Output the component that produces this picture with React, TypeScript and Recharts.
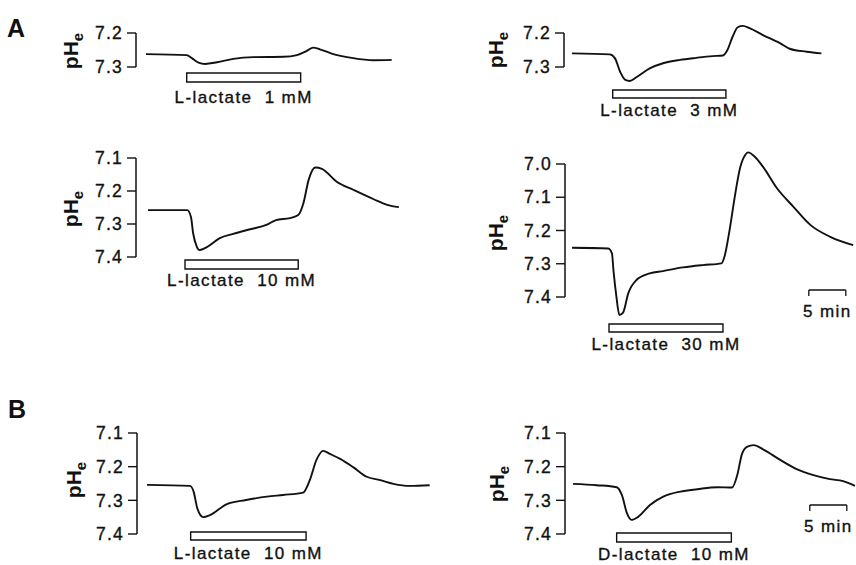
import React from 'react';
import { LineChart, Line, XAxis, YAxis, ReferenceArea, ReferenceLine, Label } from 'recharts';

// ---------- data (time in min from trace start, pHe) ----------
const a1Time = [0, 5.5, 6.2, 7.1, 8.0, 9.6, 11.8, 14.5, 18.6, 20.4, 21.7, 22.6, 23.5, 25.3, 28.0, 30.7, 33.2];
const a1PH = [7.262, 7.265, 7.274, 7.287, 7.291, 7.286, 7.276, 7.271, 7.270, 7.265, 7.253, 7.243, 7.248, 7.262, 7.274, 7.280, 7.279];

const a2Time = [0, 5.1, 5.8, 6.5, 7.2, 7.8, 8.7, 10.5, 12.3, 14.6, 16.8, 19.0, 20.4, 21.0, 21.7, 22.4, 23.1, 24.0, 25.8, 28.1, 29.5, 31.7, 33.7];
const a2PH = [7.26, 7.263, 7.274, 7.314, 7.338, 7.341, 7.330, 7.304, 7.289, 7.279, 7.273, 7.268, 7.266, 7.25, 7.211, 7.183, 7.179, 7.186, 7.206, 7.23, 7.247, 7.255, 7.26];

const a3Time = [0, 5.3, 5.8, 6.1, 6.6, 7.0, 7.9, 9.7, 11.5, 13.8, 16.0, 17.3, 19.2, 20.3, 21.0, 21.7, 22.6, 23.5, 25.5, 27.8, 30.5, 32.3, 33.9];
const a3PH = [7.258, 7.258, 7.278, 7.328, 7.369, 7.379, 7.371, 7.343, 7.330, 7.316, 7.303, 7.288, 7.282, 7.273, 7.237, 7.167, 7.129, 7.133, 7.172, 7.197, 7.225, 7.242, 7.249];

const a4Time = [0, 4.9, 5.4, 5.6, 6.0, 6.4, 6.9, 7.6, 8.7, 10.5, 12.3, 15.0, 17.7, 20.2, 20.6, 21.3, 22.0, 22.7, 23.4, 23.8, 24.7, 25.8, 27.7, 29.9, 32.2, 34.9, 38.0];
const a4PH = [7.252, 7.254, 7.269, 7.319, 7.399, 7.454, 7.447, 7.389, 7.349, 7.329, 7.322, 7.311, 7.304, 7.299, 7.279, 7.198, 7.098, 7.013, 6.973, 6.965, 6.978, 7.008, 7.073, 7.128, 7.183, 7.219, 7.244];

const b1Time = [0, 5.8, 6.3, 6.8, 7.6, 8.5, 10.8, 13.4, 16.2, 18.4, 21.1, 22.0, 22.9, 23.8, 24.7, 26.1, 27.9, 29.7, 31.5, 33.3, 35.5, 38.2];
const b1PH = [7.254, 7.257, 7.274, 7.324, 7.350, 7.344, 7.311, 7.299, 7.289, 7.284, 7.277, 7.240, 7.180, 7.153, 7.162, 7.177, 7.202, 7.230, 7.240, 7.251, 7.257, 7.255];

const b2Time = [0, 3.2, 5.9, 6.6, 7.3, 7.9, 8.8, 10.4, 12.2, 14.5, 16.8, 19.5, 21.5, 22.2, 22.8, 23.5, 24.4, 25.8, 28.0, 30.3, 32.5, 34.7, 36.5, 38.1];
const b2PH = [7.251, 7.255, 7.261, 7.284, 7.339, 7.358, 7.349, 7.314, 7.289, 7.274, 7.267, 7.261, 7.262, 7.225, 7.165, 7.141, 7.136, 7.150, 7.180, 7.208, 7.225, 7.237, 7.243, 7.257];

// application periods (min)
const a1Stim = [5.5, 20.9];
const a2Stim = [5.5, 20.8];
const a3Stim = [5.0, 20.3];
const a4Stim = [5.0, 20.4];
const b1Stim = [5.9, 21.5];
const b2Stim = [5.9, 21.4];

const a1Label = 'L-lactate\u00a0\u00a01 mM';
const a2Label = 'L-lactate\u00a0\u00a03 mM';
const a3Label = 'L-lactate\u00a0\u00a010 mM';
const a4Label = 'L-lactate\u00a0\u00a030 mM';
const b1Label = 'L-lactate\u00a0\u00a010 mM';
const b2Label = 'D-lactate\u00a0\u00a010 mM';

const ticksSmall = [7.2, 7.3];
const ticksMid = [7.1, 7.2, 7.3, 7.4];
const ticksBig = [7.0, 7.1, 7.2, 7.3, 7.4];

const scaleBarStart = 32;
const scaleBarLength = 5;
const scaleBarText = '5 min';

// ---------- layout ----------
const PX_PER_MIN = 7.4;
const FONT = '"Liberation Sans", Arial, Helvetica, sans-serif';
const INK = '#111';

type Layout = {
  left: number; top: number; right: number; bottom: number;
  axisX: number; t0Px: number;
  y1Px: number; v1: number; y2Px: number; v2: number;
  phLeft: number; phCY: number;
  barTop: number; barBot: number; labelOffset: number;
  scaleY?: number; scaleTickY?: number;
};

const L_A1: Layout = { left: 40, top: 15, right: 420, bottom: 110, axisX: 136, t0Px: 146, y1Px: 33, v1: 7.2, y2Px: 67, v2: 7.3, phLeft: 63, phCY: 51, barTop: 73, barBot: 82, labelOffset: 9 };
const L_A2: Layout = { left: 470, top: 15, right: 856, bottom: 125, axisX: 564, t0Px: 572, y1Px: 33, v1: 7.2, y2Px: 67, v2: 7.3, phLeft: 488, phCY: 50, barTop: 90, barBot: 98, labelOffset: 6 };
const L_A3: Layout = { left: 40, top: 140, right: 420, bottom: 300, axisX: 136, t0Px: 148, y1Px: 158, v1: 7.1, y2Px: 257, v2: 7.4, phLeft: 63, phCY: 209, barTop: 260, barBot: 269, labelOffset: 5 };
const L_A4: Layout = { left: 470, top: 140, right: 856, bottom: 360, axisX: 565, t0Px: 572, y1Px: 164, v1: 7.0, y2Px: 297, v2: 7.4, phLeft: 488, phCY: 233, barTop: 324, barBot: 332, labelOffset: 6, scaleY: 290, scaleTickY: 296 };
const L_B1: Layout = { left: 40, top: 415, right: 440, bottom: 565, axisX: 137, t0Px: 147, y1Px: 433, v1: 7.1, y2Px: 534, v2: 7.4, phLeft: 66, phCY: 480, barTop: 532, barBot: 540, labelOffset: 7 };
const L_B2: Layout = { left: 470, top: 415, right: 856, bottom: 565, axisX: 565, t0Px: 573, y1Px: 433, v1: 7.1, y2Px: 534, v2: 7.4, phLeft: 489, phCY: 484, barTop: 533, barBot: 542, labelOffset: 6, scaleY: 505, scaleTickY: 511 };

type PanelProps = {
  layout: Layout; time: number[]; ph: number[]; ticks: number[];
  stim: number[]; stimLabel: string; scale?: boolean;
};

const textInk = { fill: INK, stroke: INK, strokeWidth: 0.35, fontFamily: FONT };

function Panel({ layout: L, time, ph, ticks, stim, stimLabel, scale }: PanelProps) {
  const ppu = (L.y2Px - L.y1Px) / (L.v2 - L.v1);
  const pxToV = (px: number) => L.v1 + (px - L.y1Px) / ppu;
  const vTop = pxToV(L.top);
  const vBot = pxToV(L.bottom);
  const xMin = (L.axisX - L.t0Px) / PX_PER_MIN;
  const xMax = (L.right - L.t0Px) / PX_PER_MIN;
  const rows = time.map((t, i) => ({ t, ph: ph[i] }));
  const width = L.right - L.left;
  const height = L.bottom - L.top;
  const phX = L.phLeft - L.left + 15;
  const phY = L.phCY - L.top;

  const phContent = () => (
    <text
      x={phX}
      y={phY}
      transform={`rotate(-90 ${phX} ${phY})`}
      textAnchor="middle"
      fontFamily={FONT}
      fontSize={21}
      fontWeight="bold"
      fill={INK}
    >
      pH<tspan dy={5} fontSize={15}>e</tspan>
    </text>
  );

  return (
    <div style={{ position: 'absolute', left: L.left, top: L.top, width, height }}>
      <LineChart width={width} height={height} data={rows} margin={{ top: 0, right: 0, bottom: 0, left: 0 }}>
        <XAxis dataKey="t" type="number" domain={[xMin, xMax]} allowDataOverflow hide />
        <YAxis
          type="number"
          domain={[vTop, vBot]}
          allowDataOverflow
          reversed
          ticks={ticks}
          interval={0}
          width={L.axisX - L.left}
          tickSize={9}
          tickMargin={4}
          axisLine={false}
          tickLine={{ stroke: INK, strokeWidth: 1.4 }}
          tick={{ ...textInk, fontSize: 17.5, letterSpacing: 1.2 }}
          tickFormatter={(v: number) => v.toFixed(1)}
        >
          <Label content={phContent} />
        </YAxis>
        <ReferenceLine
          segment={[{ x: xMin, y: ticks[0] }, { x: xMin, y: ticks[ticks.length - 1] }]}
          stroke={INK}
          strokeWidth={1.5}
          ifOverflow="visible"
        />
        <ReferenceArea
          x1={stim[0]}
          x2={stim[1]}
          y1={pxToV(L.barTop)}
          y2={pxToV(L.barBot)}
          fill="#fff"
          fillOpacity={1}
          stroke={INK}
          strokeWidth={1.4}
          ifOverflow="visible"
          label={{
            value: stimLabel,
            position: 'bottom',
            offset: L.labelOffset,
            ...textInk,
            fontSize: 17,
            letterSpacing: 1.4,
          }}
        />
        {scale && L.scaleY !== undefined && L.scaleTickY !== undefined && (
          <ReferenceLine
            segment={[{ x: scaleBarStart, y: pxToV(L.scaleY) }, { x: scaleBarStart + scaleBarLength, y: pxToV(L.scaleY) }]}
            stroke={INK}
            strokeWidth={1.3}
            ifOverflow="visible"
            label={{ value: scaleBarText, position: 'bottom', offset: 15, ...textInk, fontSize: 17, letterSpacing: 1.4 }}
          />
        )}
        {scale && L.scaleY !== undefined && L.scaleTickY !== undefined && (
          <ReferenceLine
            segment={[{ x: scaleBarStart, y: pxToV(L.scaleY) }, { x: scaleBarStart, y: pxToV(L.scaleTickY) }]}
            stroke={INK}
            strokeWidth={1.3}
            ifOverflow="visible"
          />
        )}
        {scale && L.scaleY !== undefined && L.scaleTickY !== undefined && (
          <ReferenceLine
            segment={[{ x: scaleBarStart + scaleBarLength, y: pxToV(L.scaleY) }, { x: scaleBarStart + scaleBarLength, y: pxToV(L.scaleTickY) }]}
            stroke={INK}
            strokeWidth={1.3}
            ifOverflow="visible"
          />
        )}
        <Line
          dataKey="ph"
          type="monotone"
          stroke={INK}
          strokeWidth={1.9}
          dot={false}
          activeDot={false}
          isAnimationActive={false}
        />
      </LineChart>
    </div>
  );
}

const letterStyle: React.CSSProperties = {
  position: 'absolute',
  fontFamily: FONT,
  fontWeight: 'bold',
  fontSize: 25,
  color: INK,
  lineHeight: '25px',
};

export default function App() {
  return (
    <div style={{ position: 'absolute', left: 0, top: 0, width: 856, height: 565, background: '#fff', overflow: 'hidden' }}>
      <div style={{ ...letterStyle, left: 7, top: 16 }}>A</div>
      <div style={{ ...letterStyle, left: 8, top: 397 }}>B</div>
      <Panel layout={L_A1} time={a1Time} ph={a1PH} ticks={ticksSmall} stim={a1Stim} stimLabel={a1Label} />
      <Panel layout={L_A2} time={a2Time} ph={a2PH} ticks={ticksSmall} stim={a2Stim} stimLabel={a2Label} />
      <Panel layout={L_A3} time={a3Time} ph={a3PH} ticks={ticksMid} stim={a3Stim} stimLabel={a3Label} />
      <Panel layout={L_A4} time={a4Time} ph={a4PH} ticks={ticksBig} stim={a4Stim} stimLabel={a4Label} scale />
      <Panel layout={L_B1} time={b1Time} ph={b1PH} ticks={ticksMid} stim={b1Stim} stimLabel={b1Label} />
      <Panel layout={L_B2} time={b2Time} ph={b2PH} ticks={ticksMid} stim={b2Stim} stimLabel={b2Label} scale />
    </div>
  );
}
